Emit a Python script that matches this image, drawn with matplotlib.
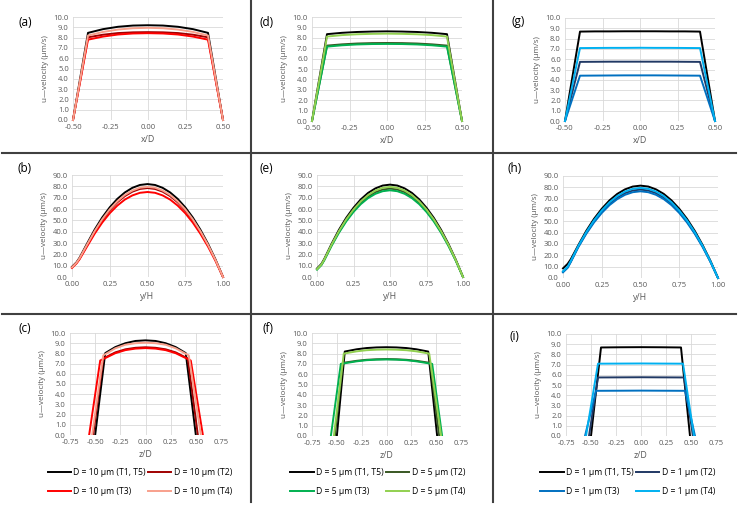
import matplotlib
matplotlib.use("Agg")
import matplotlib.pyplot as plt
from matplotlib.lines import Line2D
from matplotlib.ticker import FormatStrFormatter, MultipleLocator

plt.rcParams['font.family'] = ['Open Sans', 'DejaVu Sans']
plt.rcParams['axes.unicode_minus'] = False

W, H = 744, 509

# ---- data ----
# x/D profiles (a, d, g)
x_prof = [-0.5, -0.4, -0.3, -0.2, -0.1, 0.0, 0.1, 0.2, 0.3, 0.4, 0.5]

a_t15 = [0, 8.46, 8.82, 9.05, 9.17, 9.20, 9.17, 9.05, 8.82, 8.46, 0]
a_t2 = [0, 8.03, 8.28, 8.44, 8.51, 8.53, 8.51, 8.44, 8.28, 8.03, 0]
a_t3 = [0, 7.80, 8.10, 8.30, 8.40, 8.43, 8.40, 8.30, 8.10, 7.80, 0]
a_t4 = [0, 8.20, 8.55, 8.78, 8.91, 8.95, 8.91, 8.78, 8.55, 8.20, 0]

d_t15 = [0, 8.35, 8.48, 8.56, 8.60, 8.62, 8.60, 8.56, 8.48, 8.35, 0]
d_t2 = [0, 7.25, 7.37, 7.45, 7.49, 7.50, 7.49, 7.45, 7.37, 7.25, 0]
d_t3 = [0, 7.15, 7.28, 7.36, 7.40, 7.41, 7.40, 7.36, 7.28, 7.15, 0]
d_t4 = [0, 8.12, 8.26, 8.34, 8.38, 8.40, 8.38, 8.34, 8.26, 8.12, 0]

g_t15 = [0, 8.68, 8.70, 8.70, 8.71, 8.71, 8.71, 8.70, 8.70, 8.68, 0]
g_t2 = [0, 5.74, 5.75, 5.76, 5.76, 5.76, 5.76, 5.76, 5.75, 5.74, 0]
g_t3 = [0, 4.40, 4.41, 4.42, 4.43, 4.43, 4.43, 4.42, 4.41, 4.40, 0]
g_t4 = [0, 7.08, 7.09, 7.10, 7.10, 7.11, 7.10, 7.10, 7.09, 7.08, 0]

# y/H profiles (b, e, h)
y_prof = [0.0, 0.03, 0.05, 0.10, 0.15, 0.20, 0.25, 0.30, 0.35, 0.40, 0.45,
          0.50, 0.55, 0.60, 0.65, 0.70, 0.75, 0.80, 0.85, 0.90, 0.95, 1.0]

b_t15 = [9.0, 13.0, 17.0, 29.5, 41.8, 52.5, 61.5, 68.9, 74.6, 78.7, 81.2,
         82.0, 81.2, 78.7, 74.6, 68.9, 61.5, 52.5, 41.8, 29.5, 15.6, 0]
b_t2 = [8.6, 12.5, 16.3, 28.2, 40.0, 50.2, 58.9, 65.9, 71.4, 75.3, 77.7,
        78.5, 77.7, 75.3, 71.4, 65.9, 58.9, 50.2, 40.0, 28.2, 14.9, 0]
b_t3 = [8.0, 12.0, 15.6, 27.0, 38.2, 48.0, 56.3, 63.0, 68.3, 72.0, 74.3,
        75.0, 74.3, 72.0, 68.3, 63.0, 56.3, 48.0, 38.2, 27.0, 14.3, 0]
b_t4 = [8.5, 12.6, 16.5, 28.6, 40.5, 50.9, 59.7, 66.8, 72.4, 76.3, 78.8,
        79.5, 78.8, 76.3, 72.4, 66.8, 59.7, 50.9, 40.5, 28.6, 15.1, 0]

e_t15 = [7.5, 11.5, 16.0, 29.3, 41.6, 52.2, 61.1, 68.5, 74.2, 78.2, 80.7,
         81.5, 80.7, 78.2, 74.2, 68.5, 61.1, 52.2, 41.6, 29.3, 15.5, 0]
e_t2 = [7.0, 10.8, 15.2, 28.1, 39.8, 49.9, 58.5, 65.5, 71.0, 74.9, 77.2,
        78.0, 77.2, 74.9, 71.0, 65.5, 58.5, 49.9, 39.8, 28.1, 14.8, 0]
e_t3 = [6.5, 10.5, 14.8, 27.5, 39.0, 49.0, 57.4, 64.3, 69.6, 73.4, 75.7,
        76.5, 75.7, 73.4, 69.6, 64.3, 57.4, 49.0, 39.0, 27.5, 14.5, 0]
e_t4 = [7.0, 11.0, 15.5, 28.6, 40.5, 50.9, 59.6, 66.8, 72.3, 76.3, 78.7,
        79.5, 78.7, 76.3, 72.3, 66.8, 59.6, 50.9, 40.5, 28.6, 15.1, 0]

h_t15 = [8.5, 12.5, 16.5, 29.3, 41.6, 52.2, 61.1, 68.5, 74.2, 78.2, 80.7,
         81.5, 80.7, 78.2, 74.2, 68.5, 61.1, 52.2, 41.6, 29.3, 15.5, 0]
h_t2 = [5.5, 9.5, 14.5, 28.1, 39.8, 49.9, 58.5, 65.5, 71.0, 74.9, 77.2,
        78.0, 77.2, 74.9, 71.0, 65.5, 58.5, 49.9, 39.8, 28.1, 14.8, 0]
h_t3 = [5.0, 9.0, 14.0, 27.5, 39.0, 49.0, 57.4, 64.3, 69.6, 73.4, 75.7,
        76.5, 75.7, 73.4, 69.6, 64.3, 57.4, 49.0, 39.0, 27.5, 14.5, 0]
h_t4 = [6.0, 10.0, 15.0, 28.6, 40.5, 50.9, 59.6, 66.8, 72.3, 76.3, 78.7,
        79.5, 78.7, 76.3, 72.3, 66.8, 59.6, 50.9, 40.5, 28.6, 15.1, 0]

# z/D profiles (c, f, i): each series has its own z positions
c_z_t15 = [-0.50, -0.40, -0.30, -0.20, -0.10, 0.0, 0.10, 0.20, 0.30, 0.40, 0.50]
c_t15 = [0, 8.03, 8.62, 9.00, 9.22, 9.28, 9.22, 9.00, 8.62, 8.03, 0]
c_z_t2 = [-0.52, -0.42, -0.30, -0.20, -0.10, 0.0, 0.10, 0.20, 0.30, 0.42, 0.52]
c_t2 = [0, 7.50, 8.10, 8.40, 8.55, 8.60, 8.55, 8.40, 8.10, 7.50, 0]
c_z_t3 = [-0.56, -0.45, -0.30, -0.20, -0.10, 0.0, 0.10, 0.20, 0.30, 0.45, 0.57]
c_t3 = [0, 7.30, 8.02, 8.32, 8.47, 8.52, 8.47, 8.32, 8.02, 7.30, 0]
c_z_t4 = [-0.53, -0.42, -0.30, -0.20, -0.10, 0.0, 0.10, 0.20, 0.30, 0.43, 0.55]
c_t4 = [0, 7.80, 8.50, 8.85, 9.00, 9.05, 9.00, 8.85, 8.50, 7.80, 0]

f_z_t15 = [-0.50, -0.42, -0.30, -0.20, -0.10, 0.0, 0.10, 0.20, 0.30, 0.42, 0.51]
f_t15 = [0, 8.20, 8.42, 8.54, 8.60, 8.62, 8.60, 8.54, 8.42, 8.20, 0]
f_z_t2 = [-0.52, -0.44, -0.30, -0.20, -0.10, 0.0, 0.10, 0.20, 0.30, 0.44, 0.53]
f_t2 = [0, 7.10, 7.30, 7.40, 7.45, 7.47, 7.45, 7.40, 7.30, 7.10, 0]
f_z_t3 = [-0.56, -0.46, -0.30, -0.20, -0.10, 0.0, 0.10, 0.20, 0.30, 0.46, 0.56]
f_t3 = [0, 7.00, 7.25, 7.36, 7.41, 7.43, 7.41, 7.36, 7.25, 7.00, 0]
f_z_t4 = [-0.53, -0.43, -0.30, -0.20, -0.10, 0.0, 0.10, 0.20, 0.30, 0.43, 0.55]
f_t4 = [0, 8.00, 8.22, 8.33, 8.38, 8.40, 8.38, 8.33, 8.22, 8.00, 0]

i_z_t15 = [-0.50, -0.40, -0.20, 0.0, 0.20, 0.40, 0.49]
i_t15 = [0, 8.68, 8.70, 8.71, 8.70, 8.68, 0]
i_z_t2 = [-0.52, -0.43, -0.20, 0.0, 0.20, 0.43, 0.52]
i_t2 = [0, 5.74, 5.75, 5.76, 5.75, 5.74, 0]
i_z_t3 = [-0.56, -0.45, -0.20, 0.0, 0.20, 0.44, 0.54]
i_t3 = [0, 4.43, 4.44, 4.45, 4.44, 4.43, 0]
i_z_t4 = [-0.55, -0.43, -0.20, 0.0, 0.20, 0.42, 0.53]
i_t4 = [0, 7.09, 7.10, 7.11, 7.10, 7.09, 0]

diam = ["10", "5", "1"]
cases = ["T1, T5", "T2", "T3", "T4"]
col_colors = [
    ["#000000", "#A00000", "#FF0000", "#F8A08C"],
    ["#000000", "#385723", "#00B050", "#92D050"],
    ["#000000", "#203864", "#0070C0", "#00B0F0"],
]

# ---- figure ----
fig = plt.figure(figsize=(W / 100, H / 100), dpi=100)
GRAY = "#595959"


def px_axes(l, r, t, b):
    return fig.add_axes([l / W, 1 - b / H, (r - l) / W, (b - t) / H])


def style(ax, xlim, xstep, ylim, ystep, xlab):
    ax.set_xlim(*xlim)
    ax.set_ylim(*ylim)
    ax.xaxis.set_major_locator(MultipleLocator(xstep))
    ax.yaxis.set_major_locator(MultipleLocator(ystep))
    ax.xaxis.set_major_formatter(FormatStrFormatter("%.2f"))
    ax.yaxis.set_major_formatter(FormatStrFormatter("%.1f"))
    ax.grid(True, color="#D9D9D9", lw=0.6)
    ax.set_axisbelow(True)
    for s in ax.spines.values():
        s.set_visible(False)
    ax.tick_params(length=0, pad=3, labelsize=5.5, colors=GRAY)
    ax.set_xlabel(xlab, fontsize=6.3, color=GRAY, labelpad=3)
    ax.set_ylabel("u\u2014velocity (\u00b5m/s)", fontsize=5.8, color=GRAY, labelpad=3)


# axes boxes in pixels (left, right, top, bottom)
boxes = [
    [(73, 223, 17, 120), (72, 223, 175, 277), (70, 221, 333, 435)],
    [(312, 462, 17, 121), (317, 463, 175, 277), (312, 461, 333, 436)],
    [(565, 715, 18, 121), (563, 718, 176, 278), (566, 716, 334, 436)],
]
letters = [["(a)", "(b)", "(c)"], ["(d)", "(e)", "(f)"], ["(g)", "(h)", "(i)"]]
letter_pos = [
    [(25, 22), (25, 168), (25, 329)],
    [(267, 22), (266, 168), (268, 329)],
    [(518, 22), (515, 168), (514, 336)],
]

prof_sets = [
    [a_t15, a_t2, a_t3, a_t4],
    [d_t15, d_t2, d_t3, d_t4],
    [g_t15, g_t2, g_t3, g_t4],
]
vel_sets = [
    [b_t15, b_t2, b_t3, b_t4],
    [e_t15, e_t2, e_t3, e_t4],
    [h_t15, h_t2, h_t3, h_t4],
]
z_sets = [
    [(c_z_t15, c_t15), (c_z_t2, c_t2), (c_z_t3, c_t3), (c_z_t4, c_t4)],
    [(f_z_t15, f_t15), (f_z_t2, f_t2), (f_z_t3, f_t3), (f_z_t4, f_t4)],
    [(i_z_t15, i_t15), (i_z_t2, i_t2), (i_z_t3, i_t3), (i_z_t4, i_t4)],
]
legend_cx = [140, 378, 628]

for c in range(3):
    cols = col_colors[c]
    ax1 = px_axes(*boxes[c][0])
    for ys, col in zip(prof_sets[c], cols):
        ax1.plot(x_prof, ys, color=col, lw=1.4, clip_on=False)
    style(ax1, (-0.5, 0.5), 0.25, (0, 10), 1.0, "x/D")

    ax2 = px_axes(*boxes[c][1])
    for ys, col in zip(vel_sets[c], cols):
        ax2.plot(y_prof, ys, color=col, lw=1.4, clip_on=False)
    style(ax2, (0, 1), 0.25, (0, 90), 10.0, "y/H")

    ax3 = px_axes(*boxes[c][2])
    handles = []
    for (zs, ys), col in zip(z_sets[c], cols):
        h, = ax3.plot(zs, ys, color=col, lw=1.4)
        handles.append(h)
    style(ax3, (-0.75, 0.75), 0.25, (0, 10), 1.0, "z/D")

    for lab, (lx, ly) in zip(letters[c], letter_pos[c]):
        fig.text(lx / W, 1 - ly / H, lab, fontsize=8.5, ha="center", va="center")

    labels = ["D = %s \u00b5m (%s)" % (diam[c], k) for k in cases]
    order = [0, 2, 1, 3]
    fig.legend([handles[k] for k in order], [labels[k] for k in order],
               ncol=2, loc="center", bbox_to_anchor=(legend_cx[c] / W, 1 - 482 / H),
               frameon=False, fontsize=6.2, handlelength=2.7, handletextpad=0.3,
               columnspacing=0.25, labelspacing=1.2, borderaxespad=0)

# separator lines
for xv in (251, 493):
    fig.add_artist(Line2D([xv / W, xv / W], [1.0, 1 - 502 / H],
                          transform=fig.transFigure, color="#404040", lw=1.5))
for yv in (153, 314):
    fig.add_artist(Line2D([2 / W, 736 / W], [1 - yv / H, 1 - yv / H],
                          transform=fig.transFigure, color="#404040", lw=1.5))

fig.savefig("out.png", dpi=100)
